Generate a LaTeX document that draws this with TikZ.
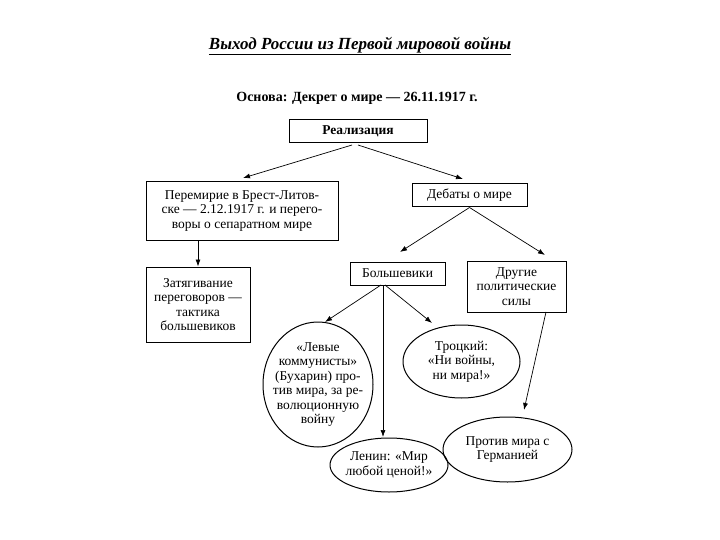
\documentclass[tikz,border=0pt]{standalone}
\usepackage{fontspec}
\setmainfont{Liberation Serif}
\usetikzlibrary{arrows.meta}
\begin{document}
\begin{tikzpicture}[x=1pt,y=-1pt,
  every node/.style={font=\fontsize{13.5}{14.5}\selectfont, align=center, inner sep=0pt},
  bx/.style={draw, line width=1pt, fill=white},
  el/.style={draw, line width=1pt},
  ar/.style={-{Latex[length=7pt,width=5pt]}, line width=0.7pt}]
\useasboundingbox (0,0) rectangle (720,540);
\node (title) at (360,46) {\fontsize{17}{19}\selectfont\bfseries\itshape\underline{Выход России из Первой мировой войны}};
\node (osn) at (357,98) {\fontsize{14}{15}\selectfont\bfseries Основа: Декрет о мире — 26.11.1917 г.};
\node[bx, minimum width=138, minimum height=23] (real) at (358,131.5) {\bfseries Реализация};
\node[bx, minimum width=192, minimum height=58] (per) at (242,211) {Перемирие в Брест-Литов-\\ске — 2.12.1917 г. и перего-\\воры о сепаратном мире};
\node[bx, minimum width=115, minimum height=23] (deb) at (469.5,195.5) {Дебаты о мире};
\node[bx, minimum width=104, minimum height=75] (zat) at (198,304.5) {Затягивание\\переговоров —\\тактика\\большевиков};
\node[bx, minimum width=95, minimum height=23] (bol) at (397.5,273.5) {Большевики};
\node[bx, minimum width=99, minimum height=51] (dr) at (516.5,286.5) {Другие\\политические\\силы};
\draw[el] (318,384.5) ellipse [x radius=55, y radius=62.5];
\node (lev) at (318,384.5) {«Левые\\коммунисты»\\(Бухарин) про-\\тив мира, за ре-\\волюционную\\войну};
\draw[el] (461.5,361.5) ellipse [x radius=58.5, y radius=36.5];
\node (tro) at (461.5,361.5) {Троцкий:\\«Ни войны,\\ни мира!»};
\draw[el] (389,465) ellipse [x radius=59, y radius=27];
\node (len) at (389,465) {Ленин: «Мир\\любой ценой!»};
\draw[el] (507.5,449.5) ellipse [x radius=64.5, y radius=32.5];
\node (pro) at (507.5,449.5) {Против мира с\\Германией};
\draw[ar] (352,145) -- (243,178);
\draw[ar] (358,145) -- (463,179);
\draw[ar] (per.south -| zat) -- (zat.north);
\draw[ar] (deb.south) -- (400,252);
\draw[ar] (deb.south) -- (545,255);
\draw[ar] (381,285) -- (325,322);
\draw[ar] (383,285) -- (383,437);
\draw[ar] (385,285) -- (432,323);
\draw[ar] (546,312) -- (524,410);
\end{tikzpicture}
\end{document}
